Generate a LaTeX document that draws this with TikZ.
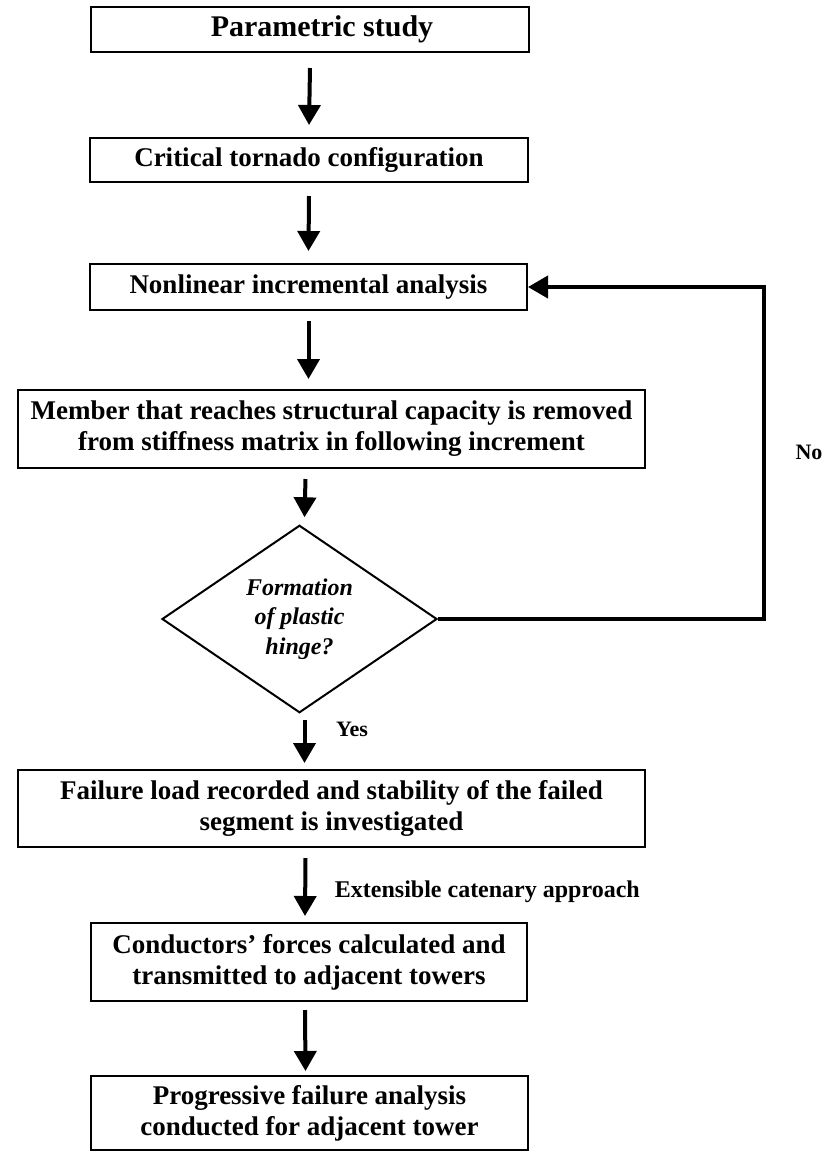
\documentclass[tikz,border=0pt]{standalone}
\usepackage{fontspec}
\setmainfont{Liberation Serif}
\usetikzlibrary{arrows.meta,shapes.geometric}
\begin{document}
\begin{tikzpicture}[x=1pt,y=-1pt,
  box/.style={draw, line width=2pt, inner sep=0pt, align=center,
    font=\bfseries\fontsize{27pt}{31pt}\selectfont},
  decision/.style={diamond, draw, line width=2pt, inner sep=0pt, align=center,
    font=\bfseries\itshape\fontsize{24pt}{29.5pt}\selectfont},
  arr/.style={line width=4pt, -{Triangle[length=20pt,width=22pt]}},
  back/.style={line width=4pt, -{Triangle[length=20pt,width=22pt]}},
  lbl/.style={inner sep=0pt, font=\bfseries\fontsize{22pt}{26pt}\selectfont}
]
\useasboundingbox (0,0) rectangle (827,1152);

% process steps
\node[box, minimum width=438pt, minimum height=45pt,
  font=\bfseries\fontsize{30pt}{34pt}\selectfont] (b1) at (310,29.5) {\hspace*{24pt}Parametric study};
\node[box, minimum width=438pt, minimum height=44pt] (b2) at (309,160) {Critical tornado configuration};
\node[box, minimum width=437pt, minimum height=46pt] (b3) at (308.5,287) {Nonlinear incremental analysis};
\node[box, minimum width=627pt, minimum height=78pt] (b4) at (331.5,429)
  {Member that reaches structural capacity is removed\\from stiffness matrix in following increment};
\node[decision, minimum width=275pt, minimum height=154pt] (dec) at (299.5,619)
  {Formation\\of plastic\\hinge?};
\node[box, minimum width=627pt, minimum height=77pt] (b5) at (331.5,808.5)
  {Failure load recorded and stability of the failed\\segment is investigated};
\node[box, minimum width=436pt, minimum height=78pt] (b6) at (309,962)
  {Conductors’ forces calculated and\\transmitted to adjacent towers};
\node[box, minimum width=437pt, minimum height=74pt] (b7) at (309.5,1113)
  {Progressive failure analysis\\conducted for adjacent tower};

% loop corner
\coordinate (loopx) at (764,450);

% forward arrows
\draw[arr] ([yshift=-15pt]b1.south) -- ([yshift=12pt]b2.north);
\draw[arr] ([yshift=-13pt]b2.south) -- ([yshift=12pt]b3.north);
\draw[arr] ([yshift=-10pt]b3.south) -- ([yshift=10pt]b3.south |- b4.north);
\draw[arr] ([yshift=-10pt,xshift=-26pt]b4.south) -- ([yshift=7pt,xshift=5pt]dec.north);
\draw[arr] ([yshift=-6pt,xshift=5pt]dec.south) -- ([yshift=6pt,xshift=5pt]dec.south |- b5.north);
\draw[arr] ([yshift=-10pt,xshift=-26pt]b5.south) -- ([yshift=6pt,xshift=-4pt]b6.north);
\draw[arr] ([yshift=-8pt,xshift=-4pt]b6.south) -- ([yshift=4pt,xshift=-4pt]b7.north);

% return branch
\draw[back] (dec.east) -- (dec.east -| loopx) -- (b3.east -| loopx) -- (b3.east);

% branch labels
\node[lbl] (no) at (809,452) {No};
\node[lbl] (yes) at (352,729) {Yes};
\node[lbl, anchor=east, font=\bfseries\fontsize{24pt}{28pt}\selectfont] (cat) at (640,892)
  {Extensible catenary approach};
\end{tikzpicture}
\end{document}
